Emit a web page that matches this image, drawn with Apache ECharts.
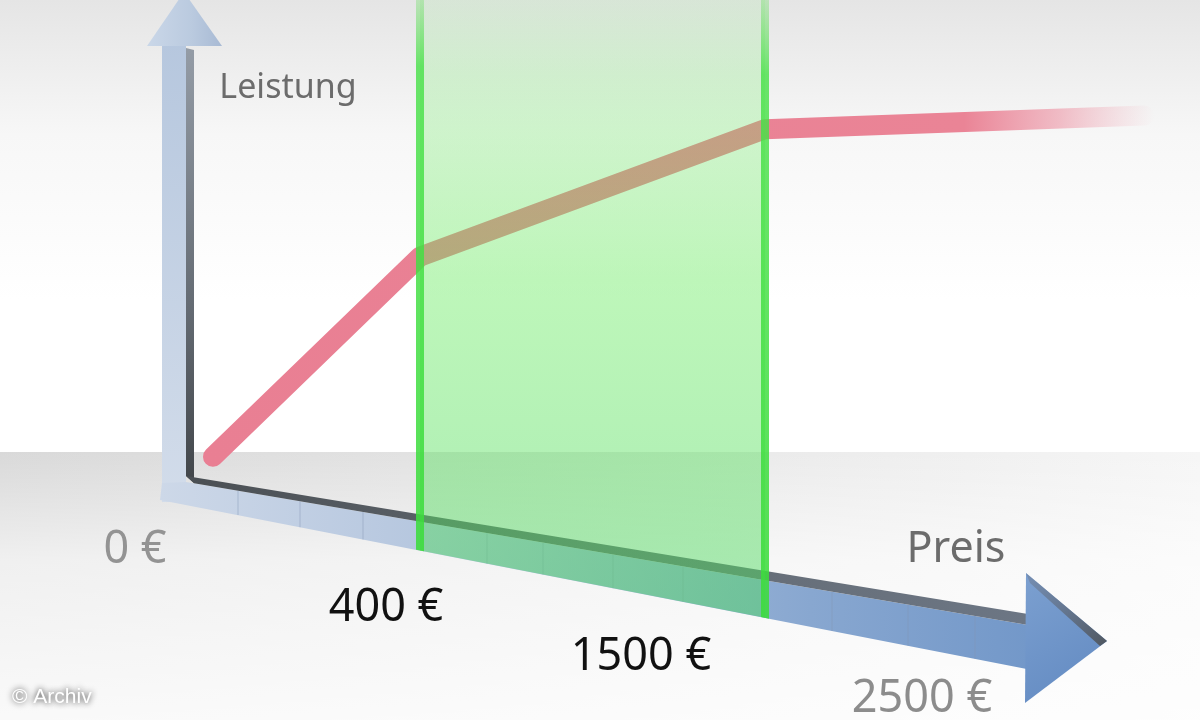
<!DOCTYPE html>
<html>
<head>
<meta charset="utf-8">
<script src="https://cdn.jsdelivr.net/npm/echarts@6/dist/echarts.min.js"></script>
<style>html,body{margin:0;padding:0;background:#fff}#c{width:1200px;height:720px}</style>
</head>
<body>
<div id="c"></div>
<script>
// ---- data ----
const axisStep = [0, 3, 8, 13.5];          // position along the Preis axis (axis segments)
const leistung = [4, 48, 76, 79];          // Leistung at those positions
const sweetSpot = [3, 8];                  // highlighted range: 400 € .. 1500 €
const priceLabels = ['0 €', '400 €', '1500 €', '2500 €'];
const yAxisName = 'Leistung';
const xAxisName = 'Preis';
const credit = '© Archiv';

// ---- illustration geometry (the slanted Preis axis) ----
function topEdge(x) { return 476 + 0.164 * (x - 186); }
function topFaceBottom(x) { return topEdge(x) + 6 + 5 * (x - 186) / 840; }
function bottomEdge(x) { return 550 + 0.195 * (x - 417); }
function lg(x, y, x2, y2, stops) {
  return { type: 'linear', x: x, y: y, x2: x2, y2: y2,
    colorStops: stops.map(s => ({ offset: s[0], color: s[1] })) };
}

const els = [];
// background: top haze and floor
els.push({ type: 'rect', z: 0, shape: { x: 0, y: 0, width: 1200, height: 300 },
  style: { fill: lg(0, 0, 0, 1, [[0, '#e5e5e5'], [0.45, '#f7f7f7'], [1, '#ffffff']]) } });
els.push({ type: 'rect', z: 0, shape: { x: 0, y: 452, width: 1200, height: 268 },
  style: { fill: lg(0, 0, 1, 0, [[0, '#d9d9d9'], [0.45, '#e5e5e5'], [1, '#f6f6f6']]) } });
els.push({ type: 'rect', z: 0, shape: { x: 0, y: 452, width: 1200, height: 268 },
  style: { fill: lg(0, 0, 0, 1, [[0, 'rgba(255,255,255,0)'], [0.4, 'rgba(255,255,255,0.6)'], [1, 'rgba(255,255,255,0.85)']]) } });

// vertical (Leistung) axis
els.push({ type: 'rect', z: 1, shape: { x: 162, y: 40, width: 24, height: 462 },
  style: { fill: lg(0, 0, 0, 1, [[0, '#b6c7de'], [1, '#d2dcea']]) } });
els.push({ type: 'polygon', z: 1, shape: { points: [[186, 48], [194, 50], [194, 483], [186, 476]] },
  style: { fill: lg(0, 0, 0, 1, [[0, '#949ca6'], [0.6, '#646b73'], [1, '#42464a']]) } });
els.push({ type: 'polygon', z: 1, shape: { points: [[184, -8], [222, 46], [147, 46]] },
  style: { fill: lg(0, 0, 1, 0, [[0, '#cad7e8'], [0.6, '#bacadf'], [1, '#a8bad4']]) } });

// slanted Preis axis: front face, top face, arrowhead
els.push({ type: 'polygon', z: 1, shape: { points: [
    [162, 483], [186, topFaceBottom(186)], [1028, topFaceBottom(1028)],
    [1028, bottomEdge(1028)], [160, bottomEdge(160)]] },
  style: { fill: lg(0, 0, 1, 0, [[0, '#cdd8e8'], [0.3, '#b6c7df'], [0.75, '#88a7d0'], [1, '#7398c9']]) } });
els.push({ type: 'polygon', z: 1, shape: { points: [
    [186, topEdge(186)], [1028, topEdge(1028)], [1028, topFaceBottom(1028)], [194, topFaceBottom(194)]] },
  style: { fill: lg(0, 0, 1, 0, [[0, '#4a4f54'], [0.5, '#636a72'], [1, '#6c7684']]) } });
[238, 300, 363, 487, 543, 613, 683, 832, 908, 975].forEach(x => {
  els.push({ type: 'line', z: 1, shape: { x1: x, y1: topFaceBottom(x), x2: x, y2: bottomEdge(x) },
    style: { stroke: 'rgba(130,150,180,0.3)', lineWidth: 1.5 } });
});
els.push({ type: 'polygon', z: 1, shape: { points: [[1026, 573], [1107, 641], [1025, 703]] },
  style: { fill: lg(0, 0, 1, 1, [[0, '#7ca0d0'], [1, '#6189c1']]) } });
els.push({ type: 'polygon', z: 1, shape: { points: [[1026, 573], [1107, 641], [1100, 646], [1030, 583]] },
  style: { fill: lg(0, 0, 1, 1, [[0, 'rgba(110,125,150,0.5)'], [1, '#50575f']]) } });

// texts
function label(text, x, y, size, color) {
  els.push({ type: 'text', z: 10, x: x, y: y,
    style: { text: text, fill: color, fontSize: size, fontFamily: '"Noto Sans", sans-serif',
      align: 'center', verticalAlign: 'middle' } });
}
label(yAxisName, 288, 88, 34, '#6c6c6c');
label(xAxisName, 956, 550, 43, '#6c6c6c');
label(priceLabels[0], 135, 550, 45, '#939393');
label(priceLabels[1], 386, 608, 45, '#111111');
label(priceLabels[2], 641, 657, 45, '#111111');
label(priceLabels[3], 922, 699, 45, '#8c8c8c');
els.push({ type: 'text', z: 10, x: 12, y: 697,
  style: { text: credit, fill: '#ffffff', fontSize: 21, fontFamily: '"Liberation Sans", Arial, sans-serif',
    align: 'left', verticalAlign: 'middle', textShadowColor: 'rgba(0,0,0,0.9)', textShadowBlur: 6 } });

const chart = echarts.init(document.getElementById('c'));
chart.setOption({
  animation: false,
  backgroundColor: '#ffffff',
  grid: { left: 213, top: 20, width: 966, height: 455 },
  xAxis: { type: 'value', min: 0, max: 14, show: false },
  yAxis: { type: 'value', min: 0, max: 100, show: false },
  graphic: { elements: els },
  series: [
    {
      type: 'line', name: yAxisName, z: 2, symbol: 'none', silent: true,
      data: axisStep.map((x, i) => [x, leistung[i]]),
      lineStyle: {
        width: 20, cap: 'round', join: 'round',
        color: lg(0, 0, 1, 0, [[0, '#e97f93'], [0.8, '#ea8496'], [0.9, 'rgba(236,140,158,0.55)'], [1, 'rgba(240,160,175,0)']])
      }
    },
    {
      type: 'custom', z: 3, silent: true,
      data: [sweetSpot],
      renderItem: function (params, api) {
        const x0 = api.coord([api.value(0), 0])[0];
        const x1 = api.coord([api.value(1), 0])[0];
        const b0 = bottomEdge(x0), b1 = bottomEdge(x1);
        const edgeFill = lg(0, 0, 0, 1, [[0, 'rgba(90,220,80,0.3)'], [0.12, 'rgba(70,225,70,0.8)'], [1, 'rgba(60,220,60,0.88)']]);
        return {
          type: 'group',
          children: [
            { type: 'polygon', shape: { points: [[x0, 0], [x1, 0], [x1, b1], [x0, b0]] },
              style: { fill: lg(0, 0, 0, 1, [[0, 'rgba(100,235,90,0.10)'], [0.12, 'rgba(100,235,90,0.22)'], [0.45, 'rgba(100,235,90,0.42)'], [1, 'rgba(80,215,100,0.5)']]) } },
            { type: 'polygon', shape: { points: [[x0 - 4, 0], [x0 + 4, 0], [x0 + 4, bottomEdge(x0 + 4)], [x0 - 4, bottomEdge(x0 - 4)]] },
              style: { fill: edgeFill } },
            { type: 'polygon', shape: { points: [[x1 - 4, 0], [x1 + 4, 0], [x1 + 4, bottomEdge(x1 + 4)], [x1 - 4, bottomEdge(x1 - 4)]] },
              style: { fill: edgeFill } }
          ]
        };
      }
    }
  ]
});
</script>
</body>
</html>
